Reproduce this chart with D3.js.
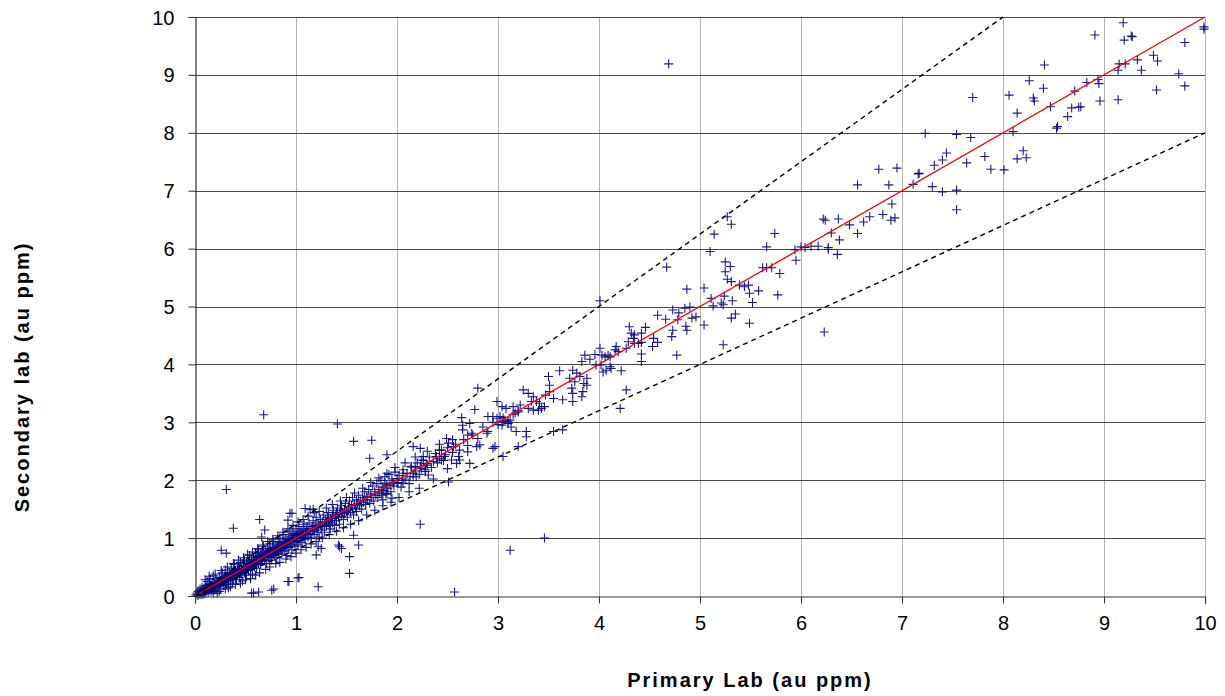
<!DOCTYPE html>
<html>
<head>
<meta charset="utf-8">
<script src="https://cdn.jsdelivr.net/npm/d3@7"></script>
<style>
  body { margin: 0; background: #fff; }
  svg { display: block; font-family: "Liberation Sans", Arial, sans-serif; }
</style>
</head>
<body>
<div id="chart"></div>
<script>
'use strict'

// axis ticks
const xTicks = [0, 1, 2, 3, 4, 5, 6, 7, 8, 9, 10]
const yTicks = [0, 1, 2, 3, 4, 5, 6, 7, 8, 9, 10]

// reference lines: 1:1, +25% and -20%
const refLines = [
  {name: '1:1', slope: 1},
  {name: '+25%', slope: 1.25},
  {name: '-20%', slope: 0.8}
]

// primary vs secondary (au ppm)
const lowRange = [
  [0.01,0.02],[0.02,0.05],[0.03,0.01],[0.03,0.08],[0.04,0.03],[0.05,0.06],[0.05,0.12],[0.06,0.02],[0.06,0.09],[0.07,0.05],
  [0.07,0.15],[0.08,0.10],[0.08,0.03],[0.09,0.07],[0.09,0.13],[0.10,0.11],[0.10,0.04],[0.11,0.18],[0.11,0.08],[0.12,0.12],
  [0.12,0.25],[0.13,0.06],[0.13,0.15],[0.14,0.20],[0.14,0.10],[0.15,0.14],[0.15,0.30],[0.16,0.08],[0.16,0.18],[0.17,0.22],
  [0.17,0.12],[0.18,0.16],[0.18,0.35],[0.19,0.24],[0.19,0.10],[0.20,0.20],[0.20,0.14],[0.21,0.28],[0.21,0.18],[0.22,0.22],
  [0.22,0.05],[0.23,0.26],[0.23,0.16],[0.24,0.32],[0.24,0.20],[0.25,0.24],[0.25,0.12],[0.26,0.30],[0.26,0.22],[0.27,0.40],
  [0.27,0.26],[0.28,0.18],[0.28,0.30],[0.29,0.34],[0.29,0.24],[0.30,0.28],[0.30,0.45],[0.31,0.20],[0.31,0.32],[0.32,0.36],
  [0.32,0.26],[0.33,0.30],[0.33,0.14],[0.34,0.40],[0.34,0.34],[0.35,0.28],[0.35,0.38],[0.36,0.48],[0.36,0.32],[0.37,0.36],
  [0.37,0.22],[0.38,0.42],[0.38,0.30],[0.39,0.38],[0.39,0.55],[0.40,0.34],[0.40,0.44],[0.41,0.28],[0.41,0.40],[0.42,0.46],
  [0.42,0.36],[0.43,0.50],[0.43,0.42],[0.44,0.32],[0.44,0.46],[0.45,0.40],[0.45,0.58],[0.46,0.48],[0.46,0.38],[0.47,0.44],
  [0.47,0.26],[0.48,0.52],[0.48,0.46],[0.49,0.40],[0.49,0.62],[0.50,0.50],[0.50,0.44],[0.51,0.56],[0.51,0.36],[0.52,0.48],
  [0.52,0.54],[0.53,0.60],[0.53,0.44],[0.54,0.52],[0.54,0.70],[0.55,0.56],[0.55,0.46],[0.56,0.62],[0.56,0.50],[0.57,0.54],
  [0.57,0.38],[0.58,0.66],[0.58,0.58],[0.59,0.50],[0.59,0.62],[0.60,0.56],[0.60,0.74],[0.61,0.64],[0.61,0.48],[0.62,0.60],
  [0.62,0.68],[0.63,0.56],[0.63,0.80],[0.64,0.66],[0.64,0.62],[0.65,0.72],[0.65,0.54],[0.66,0.64],[0.66,0.70],[0.67,0.60],
  [0.67,0.76],[0.68,0.68],[0.68,0.86],[0.69,0.72],[0.69,0.62],[0.70,0.66],[0.70,0.78],[0.71,0.74],[0.71,0.56],[0.72,0.70],
  [0.72,0.82],[0.73,0.76],[0.73,0.66],[0.74,0.72],[0.74,0.90],[0.75,0.80],[0.75,0.68],[0.76,0.74],[0.76,0.62],[0.77,0.84],
  [0.77,0.78],[0.78,0.72],[0.78,0.94],[0.79,0.80],[0.79,0.70],[0.80,0.76],[0.80,0.88],[0.81,0.82],[0.81,0.66],[0.82,0.86],
  [0.82,0.78],[0.83,0.92],[0.83,0.74],[0.84,0.84],[0.84,1.00],[0.85,0.80],[0.85,0.90],[0.86,0.86],[0.86,0.72],[0.87,0.94],
  [0.87,0.82],[0.88,0.88],[0.88,1.06],[0.89,0.84],[0.89,0.78],[0.90,0.92],[0.90,0.98],[0.91,0.86],[0.91,0.70],[0.92,0.96],
  [0.92,0.90],[0.93,1.02],[0.93,0.84],[0.94,0.94],[0.94,1.12],[0.95,0.88],[0.95,0.98],[0.96,1.04],[0.96,0.80],[0.97,0.96],
  [0.97,1.08],[0.98,0.92],[0.98,1.00],[0.99,1.06],[0.99,0.86],[1.00,1.00],[1.00,1.16],[1.01,0.94],[1.01,1.04],[1.02,1.10],
  [1.02,0.88],[1.03,1.00],[1.03,1.20],[1.04,1.06],[1.04,0.96],[1.05,1.12],[1.05,1.02],[1.06,0.92],[1.06,1.08],[1.07,1.16],
  [1.07,1.04],[1.08,1.00],[1.08,1.24],[1.09,1.10],[1.09,0.98],[1.10,1.14],[1.10,1.06],[1.11,1.20],[1.12,1.02],[1.12,1.12],
  [1.13,1.26],[1.14,1.08],[1.14,1.16],[1.15,1.00],[1.16,1.20],[1.16,1.12],[1.17,1.30],[1.18,1.14],[1.18,1.06],[1.19,1.22],
  [1.20,1.18],[1.20,1.36],[1.21,1.10],[1.22,1.26],[1.22,1.18],[1.23,1.02],[1.24,1.22],[1.24,1.32],[1.25,1.14],[1.26,1.28],
  [1.26,1.20],[1.27,1.40],[1.28,1.24],[1.28,1.10],[1.29,1.32],[1.30,1.26],[1.30,1.20],[1.31,1.36],[1.32,1.28],[1.32,1.44],
  [1.33,1.22],[1.34,1.34],[1.34,1.16],[1.35,1.30],[1.36,1.40],[1.36,1.26],[1.37,1.48],[1.38,1.34],[1.38,1.22],[1.39,1.38],
  [1.40,1.44],[1.40,1.30],[1.41,1.52],[1.42,1.36],[1.43,1.42],[1.43,1.24],[1.44,1.48],[1.45,1.38],[1.45,1.56],[1.46,1.44],
  [1.47,1.32],[1.48,1.50],[1.48,1.42],[1.49,1.60],[1.50,1.46],[1.51,1.36],[1.52,1.54],[1.52,1.48],[1.53,1.64],[1.54,1.44],
  [1.55,1.56],[1.56,1.50],[1.56,1.70],[1.57,1.40],[1.58,1.58],[1.59,1.52],[1.60,1.66],[1.60,1.46],[1.61,1.60],[1.62,1.74],
  [1.63,1.56],[1.64,1.64],[1.65,1.50],[1.66,1.70],[1.67,1.62],[1.68,1.80],[1.69,1.58],[1.70,1.72],[1.71,1.66],[1.72,1.84],
  [1.73,1.60],[1.74,1.76],[1.75,1.70],[1.76,1.90],[1.77,1.64],[1.78,1.80],[1.79,1.74],[1.80,1.94],[1.81,1.70],[1.82,1.84],
  [1.83,1.78],[1.84,2.00],[1.85,1.74],[1.86,1.88],[1.87,1.82],[1.88,2.06],[1.89,1.76],[1.90,1.92],[1.91,1.86],[1.92,2.10],
  [1.94,1.80],[1.95,2.02],[1.97,1.90],[1.98,2.14],[2.00,1.96],[2.02,2.08],[2.04,1.88],[2.06,2.18],[2.08,2.02],[2.10,2.12],
  [2.12,1.94],[2.14,2.24],[2.16,2.06],[2.18,2.16],[2.20,2.30],[2.22,2.10],[2.24,2.20],[2.26,2.34],[2.28,2.18],[2.30,2.26],
  [2.32,2.40],[2.34,2.22],[2.36,2.32],[2.38,2.46],[2.40,2.30],[2.42,2.38],[2.44,2.52],[2.46,2.34],[2.48,2.44],[2.50,2.56],
  [2.55,2.48],[2.58,2.62],[2.62,2.52],[2.66,2.70],[2.70,2.60],[2.75,2.78],[2.80,2.72],[2.85,2.92],[2.90,2.84],[2.95,3.00],
  [3.00,2.96],[3.05,3.08],[3.10,3.02],[3.15,3.14],[3.20,3.20]
]

// the wider edge of the low band
const lowSpread = [
  [0.10,0.28],[0.14,0.34],[0.18,0.05],[0.20,0.38],[0.24,0.08],[0.26,0.44],[0.30,0.12],[0.32,0.50],[0.35,0.16],[0.38,0.56],
  [0.40,0.20],[0.43,0.62],[0.45,0.22],[0.48,0.66],[0.50,0.28],[0.52,0.72],[0.55,0.30],[0.57,0.76],[0.60,0.36],[0.62,0.82],
  [0.64,0.40],[0.67,0.88],[0.70,0.46],[0.72,0.94],[0.74,0.50],[0.77,0.98],[0.80,0.56],[0.82,1.04],[0.84,0.58],[0.87,1.10],
  [0.90,0.64],[0.92,1.16],[0.95,0.68],[0.97,1.22],[1.00,0.74],[1.02,1.28],[1.05,0.80],[1.07,1.32],[1.10,0.84],[1.12,1.38],
  [1.15,0.90],[1.18,1.44],[1.20,0.94],[1.23,1.46],[1.26,1.00],[1.30,1.52],[1.33,1.06],[1.36,1.58],[1.40,1.12],[1.44,1.64],
  [1.47,1.18],[1.50,1.70],[1.54,1.24],[1.58,1.78],[1.62,1.30],[1.66,1.86],[1.70,1.40],[1.74,1.96],[1.78,1.48],[1.82,2.04],
  [1.86,1.56],[1.90,2.12],[1.94,1.62],[1.98,2.22],[2.02,1.70],[2.08,2.30],[2.12,1.80],[2.18,2.40],[2.22,1.86],[2.30,2.50],
  [2.36,2.02],[2.42,2.62],[2.50,2.20],[2.55,2.70]
]

const midRange = [
  [2.06,2.12],[2.05,2.00],[2.00,2.03],[1.96,1.95],[1.93,1.92],[1.88,1.95],[1.85,1.83],[1.90,1.77],[1.95,1.69],[1.86,1.66],
  [2.01,1.95],[2.06,1.95],[2.16,2.58],[2.23,2.55],[1.90,2.44],[2.51,1.97],
  [2.26,2.41],[2.24,2.35],[2.29,2.29],[2.23,2.23],[2.18,2.23],[2.14,2.23],[2.16,2.12],[2.28,2.15],[2.31,2.09],[2.13,2.06],[2.19,2.06],
  [2.49,2.72],[2.51,2.64],[2.56,2.58],[2.42,2.52],[2.47,2.41],[2.44,2.35],[2.39,2.41],[2.54,2.35],
  [2.70,2.49],[2.72,2.29],[2.61,2.41],[2.59,2.29],[2.62,2.35],
  [2.79,2.58],[2.82,2.61],[2.89,2.81],[2.95,2.55],[2.97,2.58],
  [2.64,3.08],[2.65,2.95],[2.72,2.98],[2.74,2.81],[2.70,2.78],[2.65,2.87],[2.80,3.59],[2.77,3.22],
  [2.90,3.10],[2.95,3.10],[2.99,3.07],[3.02,3.10],[3.07,3.04],[3.04,2.95],[3.10,2.98],[3.12,3.04],[3.13,2.92],[3.05,3.01],
  [3.18,2.84],[3.28,2.84],[2.99,3.36],[3.04,3.27],[3.08,3.24],[3.15,3.27],
  [3.22,3.30],[3.17,3.16],[3.20,3.18],[3.28,2.75],[3.20,2.58],[3.55,2.84],[3.64,2.87],[3.05,2.41],
  [3.25,3.56],[3.30,3.50],[3.35,3.44],[3.33,3.36],[3.38,3.36],[3.30,3.24],[3.35,3.21],
  [3.41,3.33],[3.43,3.24],[3.46,3.27],[3.40,3.21],
  [3.50,3.79],[3.51,3.64],[3.51,3.53],[3.47,3.47],[3.55,3.41],
  [3.61,3.89],[3.74,3.90],[3.78,3.85],[3.71,3.76],[3.76,3.70],[3.81,3.79],[3.88,3.76],[3.85,3.67],[3.88,3.64],[3.73,3.59],
  [3.74,3.50],[3.83,3.44],[3.74,3.36],[3.64,3.39],[3.84,3.53],[4.27,3.56],[4.21,3.24],
  [3.97,3.99],[4.12,3.93],[4.22,3.89],[3.86,4.16],[3.91,4.09],[3.83,4.05],[4.03,4.16],[3.96,4.17],[4.19,4.22],
  [4.01,4.28],[4.06,4.13],[4.02,3.99],[4.07,3.90],[4.04,3.87],[4.11,3.96],
  [4.30,4.65],[4.32,4.54],[4.34,4.45],[4.29,4.39],[4.35,4.51],[4.39,4.36],
  [4.46,4.64],[4.42,4.54],[4.42,4.38],[4.54,4.45],[4.58,4.38],[4.53,4.31],
  [4.35,4.36],[4.27,4.28],[4.17,4.31],[4.16,4.25],[4.11,4.13],[4.09,4.16],[4.42,4.18],[4.42,4.05],[4.77,4.16],
  [4.73,4.59],[4.72,4.48],[4.58,4.85],[4.66,4.78],[4.78,4.77],[4.86,4.66],[4.87,4.59],[4.92,4.80],[4.96,4.82],[5.04,4.68],
  [4.73,4.94],[4.79,4.89],[4.85,4.97],[4.90,4.99],[4.87,5.30],[5.04,5.32],[4.67,5.68],[4.01,5.10],
  [5.11,5.14],[5.13,5.01],[5.24,5.18],[5.21,5.06],[5.23,5.03],[5.32,5.10],[5.49,5.23],[5.52,5.07],
  [5.31,4.80],[5.35,4.87],[5.49,4.71],[5.23,4.34]
]

const highRange = [
  [5.25,5.77],[5.25,5.60],[5.30,5.69],[5.27,5.47],[5.31,5.43],[5.39,5.37],[5.44,5.34],[5.48,5.37],[5.58,5.27],[5.77,5.20],
  [5.62,5.67],[5.66,5.67],[5.71,5.67],[5.79,5.57],[5.27,6.55],[5.31,6.42],[5.14,6.25],[5.10,5.95],[5.66,6.03],[5.74,6.26],
  [5.94,5.98],[5.95,5.80],[6.00,6.03],[6.04,6.02],[6.27,5.99],[6.36,5.90],[6.10,6.04],[6.17,6.04],[6.27,6.02],
  [6.22,6.51],[6.24,6.49],[6.37,6.51],[6.48,6.41],[6.68,6.55],[6.62,6.46],[6.81,6.59],[6.89,6.49],[6.93,6.53],
  [6.30,6.27],[6.56,6.26],[6.38,6.15],[6.90,6.77],
  [6.56,7.10],[6.87,7.10],[7.11,7.11],[7.30,7.07],[7.40,6.98],[7.54,7.01],[7.54,6.67],
  [6.77,7.37],[6.95,7.39],[7.16,7.29],[7.17,7.30],[7.32,7.44],[7.40,7.53],[7.44,7.65],[7.64,7.48],[7.82,7.59],
  [7.88,7.37],[8.01,7.36],[8.20,7.69],[8.14,7.55],[8.23,7.57],
  [7.23,7.99],[7.54,7.97],[7.68,7.92],[8.10,8.02],[7.70,8.61],[8.14,8.34],[8.53,8.08],[8.54,8.11],[8.64,8.28],
  [8.06,8.65],[8.30,8.60],[8.31,8.55],[8.26,8.90],[8.40,8.77],[8.41,9.17],[8.47,8.45],
  [8.68,8.43],[8.75,8.44],[8.77,8.45],[8.71,8.72],[8.83,8.87],[8.94,8.92],[8.95,8.85],[8.96,8.55],[9.14,8.57],
  [9.52,8.74],[9.80,8.81],[9.74,9.02],[9.37,9.08],[9.14,9.08],[9.15,9.19],[9.21,9.19],[9.33,9.26],[9.49,9.34],[9.53,9.24],
  [9.20,9.60],[9.27,9.67],[9.28,9.66],[8.91,9.69],[9.19,9.90],[9.80,9.56],[9.99,9.83],[9.99,9.79]
]

const outliers = [
  [4.69,9.19],[6.23,4.56],[3.12,0.79],[3.46,1.00],[2.57,0.07],[2.23,1.24],
  [0.68,3.13],[1.41,2.97],[1.57,2.67],[1.75,2.69],[1.73,2.38],[0.31,1.84],[0.38,1.17],
  [0.64,1.32],[0.69,1.14],[0.66,1.02],[0.94,1.43],[0.92,1.31],[0.96,1.43],[1.09,1.51],[1.14,1.49],[1.17,1.50],
  [1.53,0.68],[1.53,0.39],[1.22,0.16],[1.57,1.05],[1.62,0.88],[1.42,0.88],[1.43,0.85],[1.45,0.82],
  [1.22,0.85],[1.25,0.82],[1.20,0.71],[1.02,0.31],[0.92,0.25],[0.93,0.25],[1.03,0.32],
  [0.76,0.10],[0.78,0.12],[0.63,0.07],[0.56,0.05],[0.58,0.05],[0.26,0.79],[0.31,0.74]
]

const points = [].concat(lowRange, lowSpread, midRange, highRange, outliers)

////////////////////////////////////
//////////// svg setup /////////////
////////////////////////////////////

const svgWidth = 1225, svgHeight = 696
const margin = {left: 195, right: 20, top: 17, bottom: 100}

const svg = d3.select('#chart').append('svg')
    .attr('width', svgWidth)
    .attr('height', svgHeight)

const x = d3.scaleLinear().domain([0, 10]).range([margin.left, svgWidth - margin.right])
const y = d3.scaleLinear().domain([0, 10]).range([svgHeight - margin.bottom, margin.top])

// gridlines
svg.append('g').selectAll('line.vgrid')
    .data(xTicks.filter(d => d > 0))
    .join('line')
    .attr('x1', d => Math.round(x(d)) + 0.5).attr('x2', d => Math.round(x(d)) + 0.5)
    .attr('y1', y(10)).attr('y2', y(0))
    .attr('stroke', '#b4b4b4')

svg.append('g').selectAll('line.hgrid')
    .data(yTicks.filter(d => d > 0))
    .join('line')
    .attr('x1', x(0)).attr('x2', x(10))
    .attr('y1', d => Math.round(y(d)) + 0.5).attr('y2', d => Math.round(y(d)) + 0.5)
    .attr('stroke', '#4a4a4a')

// markers
const plus = 'M-4.5,0H4.5M0,-4.5V4.5'
svg.append('g').attr('id', 'points')
    .selectAll('path')
    .data(points)
    .join('path')
    .attr('d', plus)
    .attr('transform', d => `translate(${x(d[0])},${y(d[1])})`)
    .attr('fill', 'none')
    .attr('stroke', '#000080')
    .attr('stroke-width', 1.1)
    .attr('stroke-opacity', 0.9)

// reference lines, clipped at the plot frame
svg.append('g').selectAll('line.ref')
    .data(refLines)
    .join('line')
    .attr('x1', x(0)).attr('y1', y(0))
    .attr('x2', d => x(Math.min(10, 10 / d.slope)))
    .attr('y2', d => y(Math.min(10, 10 * d.slope)))
    .attr('stroke', d => d.slope === 1 ? '#ff0000' : '#000')
    .attr('stroke-width', d => d.slope === 1 ? 1.3 : 1.4)
    .attr('stroke-dasharray', d => d.slope === 1 ? null : '5,4')

// axes
const xAxis = svg.append('g')
    .attr('transform', `translate(0,${Math.round(y(0)) + 0.5})`)
    .call(d3.axisBottom(x).tickValues(xTicks).tickSize(7).tickPadding(12).tickFormat(d3.format('d')))
const yAxis = svg.append('g')
    .attr('transform', `translate(${Math.round(x(0)) + 0.5},0)`)
    .call(d3.axisLeft(y).tickValues(yTicks).tickSize(7).tickPadding(14).tickFormat(d3.format('d')))

;[xAxis, yAxis].forEach(a => {
    a.select('.domain').attr('stroke', '#333').attr('stroke-width', 1.2)
    a.selectAll('.tick line').attr('stroke', '#333')
    a.selectAll('text').attr('font-size', 20).attr('fill', '#000')
        .attr('font-family', '"Liberation Sans", Arial, sans-serif')
})
yAxis.selectAll('.tick text').attr('dy', '0.35em')

// axis titles
svg.append('text')
    .attr('x', 750).attr('y', 687)
    .attr('text-anchor', 'middle')
    .attr('font-size', 20).attr('font-weight', 'bold')
    .attr('letter-spacing', 2)
    .text('Primary Lab (au ppm)')

svg.append('text')
    .attr('transform', 'translate(29,377) rotate(-90)')
    .attr('text-anchor', 'middle')
    .attr('font-size', 20).attr('font-weight', 'bold')
    .attr('letter-spacing', 2)
    .text('Secondary lab (au ppm)')
</script>
</body>
</html>
